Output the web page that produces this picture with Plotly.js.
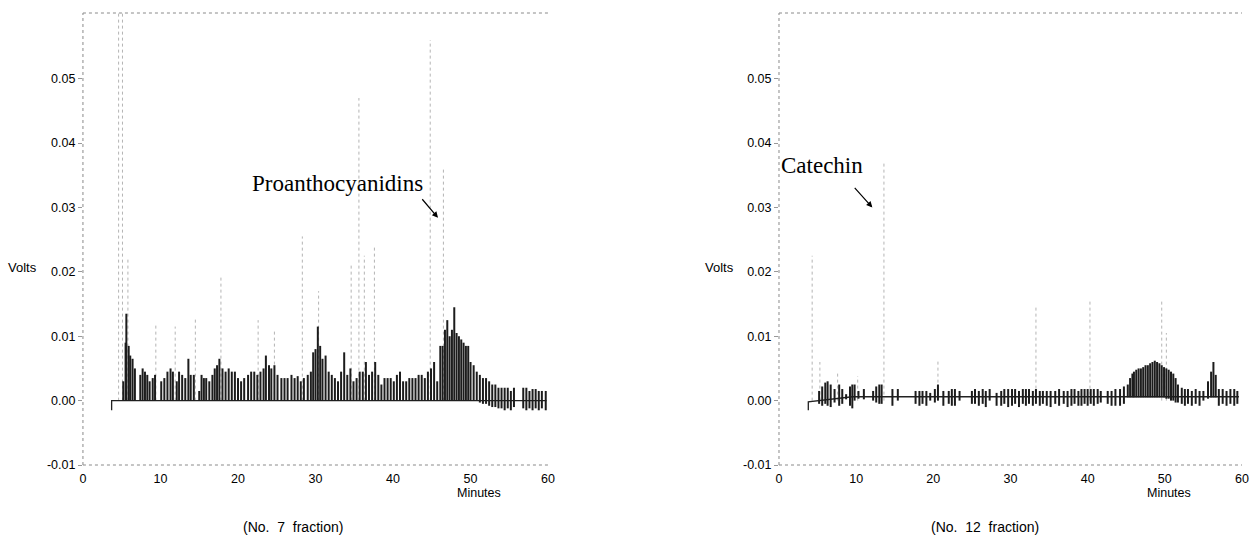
<!DOCTYPE html>
<html>
<head>
<meta charset="utf-8">
<script src="https://cdn.plot.ly/plotly-3.0.1.min.js"></script>
<style>html,body{margin:0;padding:0;background:#fff;}#chart{width:1253px;height:544px;}</style>
</head>
<body>
<div id="chart"></div>
<script>
// ---------- No. 7 fraction ----------
const leftStrokeTime = [5.2,5.5,5.6,5.9,6.1,6.4,6.7,7.4,7.7,8.0,8.3,8.6,9.0,9.3,10.1,10.5,10.9,11.3,11.6,12.1,12.4,12.8,13.2,13.6,13.9,14.3,15.0,15.3,15.6,15.9,16.3,16.7,17.0,17.3,17.6,18.0,18.4,18.8,19.2,19.6,20.0,20.4,20.8,21.3,21.7,22.1,22.5,22.9,23.3,23.6,24.0,24.3,24.7,25.1,25.6,26.0,26.4,26.9,27.3,27.7,28.1,28.5,29.0,29.4,29.7,30.0,30.3,30.6,30.9,31.3,31.7,32.1,32.5,32.9,33.3,33.7,34.1,34.5,34.9,35.3,35.7,36.1,36.5,36.9,37.3,37.7,38.1,38.5,38.9,39.3,39.7,40.1,40.5,40.9,41.3,41.7,42.1,42.5,42.9,43.3,43.7,44.1,44.5,44.9,45.3,45.7,46.1,46.4,46.7,47.0,47.3,47.6,47.9,48.2,48.5,48.8,49.1,49.4,49.7,50.0,50.4,50.8,51.2,51.6,52.0,52.4,52.8,53.2,53.6,54.0,54.4,54.8,55.2,55.6,56.8,57.2,57.6,58.0,58.4,58.8,59.2,59.7];
const leftStrokeHigh = [0.003,0.009,0.0135,0.0085,0.007,0.0065,0.005,0.004,0.005,0.0045,0.004,0.003,0.0035,0.004,0.003,0.0035,0.0045,0.005,0.0045,0.003,0.0045,0.004,0.0035,0.0065,0.004,0.004,0.0015,0.004,0.0035,0.0035,0.003,0.004,0.005,0.0055,0.0065,0.005,0.0045,0.005,0.0045,0.0045,0.0035,0.003,0.0035,0.004,0.0045,0.0045,0.004,0.0045,0.005,0.007,0.0055,0.005,0.0055,0.004,0.0035,0.0035,0.0035,0.004,0.0035,0.0038,0.003,0.0035,0.004,0.0045,0.0075,0.008,0.0115,0.0085,0.0065,0.007,0.0045,0.004,0.0035,0.003,0.0045,0.0075,0.004,0.005,0.003,0.0035,0.0045,0.0045,0.006,0.004,0.0045,0.006,0.004,0.0025,0.0035,0.0035,0.0035,0.003,0.004,0.0045,0.003,0.003,0.0035,0.0035,0.0035,0.004,0.004,0.0035,0.0045,0.005,0.006,0.003,0.0085,0.0085,0.011,0.0125,0.010,0.011,0.0145,0.0105,0.010,0.0095,0.009,0.0085,0.0085,0.006,0.0055,0.0045,0.004,0.0035,0.0035,0.003,0.0025,0.0025,0.002,0.002,0.002,0.002,0.0015,0.002,0.002,0.002,0.0015,0.0018,0.0018,0.0015,0.0015,0.0015];
const leftStrokeLow = [0,0,0,0,0,0,0,0,0,0,0,0,0,0,0,0,0,0,0,0,0,0,0,0,0,0,0,0,0,0,0,0,0,0,0,0,0,0,0,0,0,0,0,0,0,0,0,0,0,0,0,0,0,0,0,0,0,0,0,0,0,0,0,0,0,0,0,0,0,0,0,0,0,0,0,0,0,0,0,0,0,0,0,0,0,0,0,0,0,0,0,0,0,0,0,0,0,0,0,0,0,0,0,0,0,0,0,0,0,0,0,0,0,0,0,0,0,0,0,0,0,0,-0.0003,-0.0005,-0.0005,-0.0008,-0.001,-0.001,-0.0012,-0.0012,-0.0015,-0.0012,-0.0015,-0.001,-0.0012,-0.0015,-0.0012,-0.0015,-0.0012,-0.0015,-0.0012,-0.0015];
const leftBaseTime = [3.7,3.7,3.7,50.5,55.6,59.8];
const leftBaseVolts = [-0.0015,0,0,0,0,0];
const leftFaintTime = [4.6,5.1,5.8,9.4,11.9,14.5,17.8,22.6,24.7,28.3,30.4,34.6,35.6,36.3,37.6,44.8,46.5];
const leftFaintTop = [0.0602,0.0602,0.022,0.012,0.0115,0.013,0.0195,0.0125,0.011,0.0255,0.017,0.021,0.047,0.0225,0.024,0.056,0.036];

// ---------- No. 12 fraction ----------
const rightStrokeTime = [5.2,5.6,6.0,6.3,6.7,7.2,7.8,8.2,8.7,9.2,9.5,9.8,10.3,11.0,12.2,12.6,13.0,13.3,14.7,15.4,17.7,18.2,18.6,19.1,19.6,20.2,20.6,21.3,22.0,22.4,22.8,23.4,25.0,25.4,25.9,26.4,26.8,27.3,28.2,28.8,29.2,29.7,30.2,30.6,31.1,31.6,32.0,32.4,32.9,33.3,33.8,34.2,34.7,35.2,35.8,36.3,36.9,37.4,37.9,38.3,38.8,39.2,39.6,40.0,40.4,40.8,41.3,41.7,42.6,43.1,43.6,44.2,44.7,45.2,45.5,45.8,46.0,46.3,46.6,46.9,47.2,47.5,47.8,48.1,48.4,48.7,49.0,49.3,49.6,49.9,50.2,50.5,50.8,51.1,51.4,51.7,52.2,52.6,53.0,53.5,54.0,54.5,55.0,55.6,56.0,56.3,56.6,57.0,57.5,58.0,58.5,59.0,59.4];
const rightStrokeHigh = [0.0015,0.0022,0.0028,0.003,0.0025,0.0018,0.0025,0.0018,0.001,0.0022,0.0025,0.0025,0.0015,0.0018,0.0015,0.0022,0.0025,0.0025,0.0018,0.0018,0.0015,0.0015,0.0015,0.0015,0.0012,0.0018,0.0025,0.0015,0.0015,0.0018,0.0018,0.0015,0.0015,0.0018,0.0015,0.0018,0.0015,0.0018,0.0012,0.0015,0.0018,0.0018,0.0018,0.0018,0.0015,0.0018,0.0018,0.0018,0.0015,0.0018,0.0015,0.0015,0.0015,0.0015,0.0015,0.0018,0.0015,0.0015,0.0018,0.0018,0.0015,0.0018,0.0018,0.0018,0.0018,0.0018,0.0018,0.0015,0.0015,0.0015,0.0018,0.0018,0.0022,0.0025,0.0035,0.0042,0.0045,0.0048,0.005,0.005,0.0052,0.0055,0.0055,0.0058,0.006,0.0062,0.006,0.0058,0.0055,0.0052,0.005,0.0048,0.0045,0.0042,0.0035,0.0025,0.002,0.0018,0.0018,0.0015,0.0018,0.0015,0.0015,0.003,0.0045,0.006,0.004,0.0018,0.0018,0.0015,0.0018,0.0018,0.0015];
const rightStrokeLow = [-0.0005,-0.0008,-0.0005,-0.0008,-0.001,-0.0003,-0.0008,-0.0005,0.0002,-0.0008,-0.0012,0.0,0.0003,0.0002,0.0,-0.0003,-0.0005,-0.0005,-0.0008,0.0,-0.0005,-0.0008,-0.0005,-0.0008,0.0,-0.0003,0.0,-0.0008,-0.0005,-0.0008,-0.0008,0.0,-0.0005,-0.0005,-0.0008,-0.0005,-0.001,0.0,-0.0008,-0.0008,-0.0005,-0.001,-0.0008,-0.0005,-0.001,-0.0005,-0.0008,-0.0005,-0.0008,-0.0005,-0.0008,-0.0005,-0.0008,-0.001,-0.0005,-0.0008,-0.0005,-0.001,-0.0008,-0.0005,-0.0008,-0.0008,-0.0005,-0.0008,-0.0005,-0.0008,-0.0005,-0.0003,-0.0005,-0.0008,-0.0008,-0.0008,-0.0005,0.0005,0.0005,0.0005,0.0005,0.0005,0.0005,0.0005,0.0005,0.0005,0.0005,0.0005,0.0005,0.0005,0.0005,0.0005,0.0005,0.0005,0.0003,0.0003,0.0,0.0,-0.0003,-0.0003,-0.0005,-0.0008,-0.0005,-0.0008,-0.0005,-0.0008,0.0,0.0003,0.0005,0.0005,0.0005,-0.0008,-0.0005,-0.0008,-0.0005,-0.0008,-0.0005];
const rightBaseTime = [3.8,3.8,3.8,9.5,59.6];
const rightBaseVolts = [-0.0015,-0.0002,-0.0002,0.0006,0.0006];
const rightFaintTime = [4.3,5.3,7.6,10.2,13.6,20.6,33.3,40.3,49.6,50.2];
const rightFaintTop = [0.0225,0.006,0.0042,0.0038,0.037,0.0065,0.0148,0.0155,0.0155,0.0105];

const xTicks = [0,10,20,30,40,50,60];
const yTicks = [-0.01,0,0.01,0.02,0.03,0.04,0.05];
const yTickText = ['-0.01','0.00','0.01','0.02','0.03','0.04','0.05'];

function segs(times, lows, highs){
  const x=[], y=[];
  for(let i=0;i<times.length;i++){ x.push(times[i],times[i],null); y.push(lows[i],highs[i],null); }
  return {x, y};
}
const zeros = n => new Array(n).fill(0);

const lf = segs(leftFaintTime, zeros(leftFaintTime.length), leftFaintTop);
const ls = segs(leftStrokeTime, leftStrokeLow, leftStrokeHigh);
const rf = segs(rightFaintTime, zeros(rightFaintTime.length), rightFaintTop);
const rs = segs(rightStrokeTime, rightStrokeLow, rightStrokeHigh);

const faintLine = {color:'#b4b4b4', width:1, dash:'dot'};
const strokeLine = {color:'#1c1c1c', width:2};
const baseLine = {color:'#222', width:1.3};

const traces = [
  {x:lf.x, y:lf.y, mode:'lines', line:faintLine, xaxis:'x', yaxis:'y', hoverinfo:'skip'},
  {x:leftBaseTime, y:leftBaseVolts, mode:'lines', line:baseLine, xaxis:'x', yaxis:'y'},
  {x:ls.x, y:ls.y, mode:'lines', line:strokeLine, xaxis:'x', yaxis:'y'},
  {x:rf.x, y:rf.y, mode:'lines', line:faintLine, xaxis:'x2', yaxis:'y2', hoverinfo:'skip'},
  {x:rightBaseTime, y:rightBaseVolts, mode:'lines', line:baseLine, xaxis:'x2', yaxis:'y2'},
  {x:rs.x, y:rs.y, mode:'lines', line:strokeLine, xaxis:'x2', yaxis:'y2'}
];

const tickFont = {family:'Liberation Sans, Arial, sans-serif', size:12.5, color:'#000'};
function xa(domain, anchor){
  return {domain, anchor, range:[0,60], tickvals:xTicks, ticktext:xTicks.map(String), showgrid:false, zeroline:false,
          showline:false, ticks:'', ticklabelstandoff:4, tickfont:tickFont, fixedrange:true};
}
function ya(anchor){
  return {domain:[0.1452,0.9761], anchor, range:[-0.01,0.0602], tickvals:yTicks, ticktext:yTickText, showgrid:false,
          zeroline:false, showline:false, ticks:'outside', ticklen:4, tickcolor:'#999', tickfont:tickFont, fixedrange:true};
}

function frame(xr, yr){
  const s = {type:'line', xref:xr+' domain', yref:yr+' domain', line:{color:'#8a8a8a', width:1, dash:'dot'}};
  return [
    Object.assign({}, s, {x0:0, x1:0, y0:0, y1:1}),
    Object.assign({}, s, {x0:0, x1:1, y0:0, y1:0}),
    Object.assign({}, s, {x0:0, x1:1, y0:1, y1:1})
  ];
}

const labelFont = {family:'Liberation Sans, Arial, sans-serif', size:13, color:'#000'};
const serifFont = {family:'Liberation Serif, Times New Roman, serif', size:23, color:'#000'};
const C = {xanchor:'center', yanchor:'middle', showarrow:false, xref:'paper', yref:'paper'};
const annotations = [
  {...C, x:0.0176, y:0.509, text:'Volts', font:labelFont},
  {...C, x:0.574, y:0.509, text:'Volts', font:labelFont},
  {...C, x:0.382, y:0.094, text:'Minutes', font:{...labelFont, size:12.5}},
  {...C, x:0.933, y:0.094, text:'Minutes', font:{...labelFont, size:12.5}},
  {...C, x:0.234, y:0.031, text:'(No.\u00a0 7\u00a0 fraction)', font:{...labelFont, size:14}},
  {...C, x:0.786, y:0.031, text:'(No.\u00a0 12\u00a0 fraction)', font:{...labelFont, size:14}},
  {xref:'x', yref:'y', x:32.9, y:0.0337, xanchor:'center', yanchor:'middle', text:'Proanthocyanidins', showarrow:false, font:serifFont},
  {xref:'x', yref:'y', x:45.8, y:0.0284, ax:-17, ay:-20, text:'', showarrow:true, arrowhead:2, arrowsize:1, arrowwidth:1.2, arrowcolor:'#000'},
  {xref:'x2', yref:'y2', x:0.0, y:0.0365, xanchor:'left', yanchor:'middle', text:'Catechin', showarrow:false, font:serifFont},
  {xref:'x2', yref:'y2', x:12.1, y:0.030, ax:-19, ay:-21, text:'', showarrow:true, arrowhead:2, arrowsize:1, arrowwidth:1.2, arrowcolor:'#000'}
];

const layout = {
  width:1253, height:544, margin:{l:0, r:0, t:0, b:0},
  paper_bgcolor:'#fff', plot_bgcolor:'#fff', showlegend:false,
  xaxis: xa([0.0662,0.4374],'y'),
  yaxis: ya('x'),
  xaxis2: xa([0.6217,0.9912],'y2'),
  yaxis2: ya('x2'),
  shapes: frame('x','y').concat(frame('x2','y2')),
  annotations
};

Plotly.newPlot('chart', traces, layout, {displayModeBar:false, staticPlot:true});
</script>
</body>
</html>
